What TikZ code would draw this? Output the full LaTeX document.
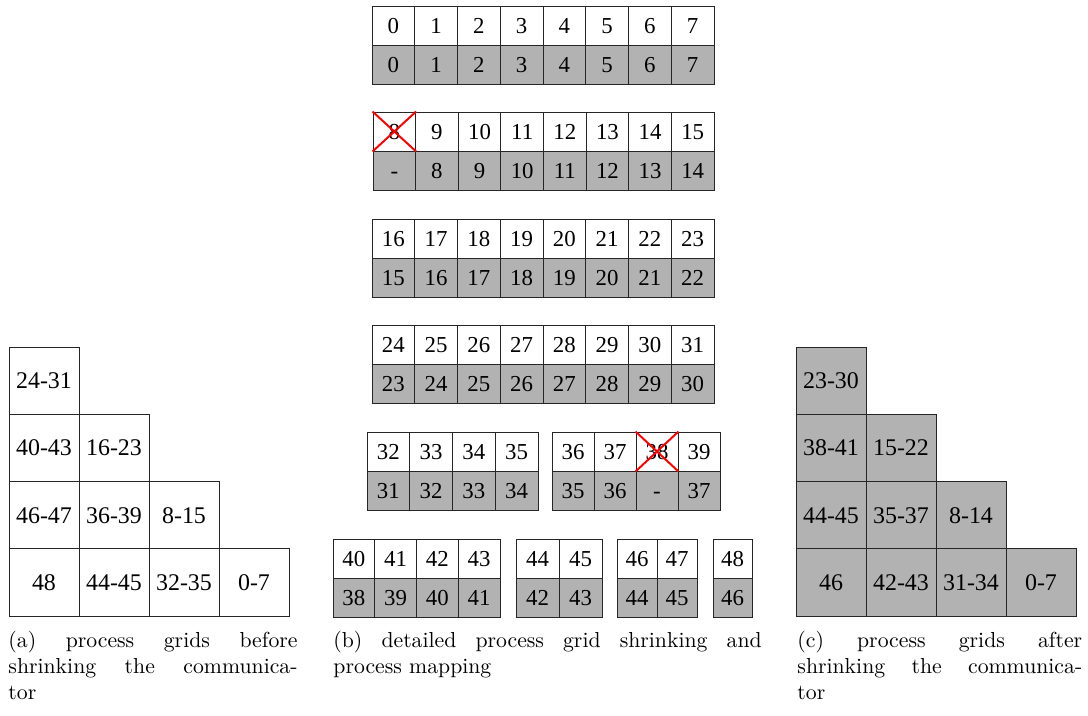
\documentclass[tikz,border=0pt]{standalone}
\usepackage{fontspec}
\newfontfamily\cellfont{Liberation Serif}
\definecolor{shade}{gray}{0.7}
\pretolerance=10000
\tolerance=10000

% one pixel of the layout grid
\newcommand{\pxu}{0.46pt}

\tikzset{
  cell/.style={draw=black!85, line width=0.45pt, inner sep=0pt,
    minimum height=39*\pxu, text height=7.1pt, text depth=0pt,
    font=\cellfont\fontsize{10.5}{12}\selectfont},
  oldcell/.style={cell, fill=white},
  newcell/.style={cell, fill=shade},
  gridcell/.style={draw=black!85, line width=0.45pt, inner sep=0pt,
    minimum width=70*\pxu, minimum height=67.25*\pxu,
    text height=7.4pt, text depth=0pt,
    font=\cellfont\fontsize{11}{13}\selectfont},
  cross/.style={red, line width=0.9pt},
  caption/.style={anchor=north west, inner sep=0pt, align=justify,
    font=\fontsize{10}{12}\selectfont}
}

% #1 name, #2 left, #3 top, #4 cell width, #5 old/new rank pairs
\newcommand{\procblock}[5]{%
  \foreach \oldrank/\newrank [count=\k from 0] in {#5} {
    \node[oldcell, minimum width=#4*\pxu] (#1u\k) at ({#2+(\k+0.5)*#4}, {#3+19.5}) {\oldrank};
    \node[newcell, minimum width=#4*\pxu] (#1d\k) at ({#2+(\k+0.5)*#4}, {#3+58.5}) {\newrank};
  }
}

\begin{document}
\begin{tikzpicture}[x=\pxu, y=-\pxu]
  \useasboundingbox (0,0) rectangle (1088,715);

  % (a) grids before shrinking
  \foreach \c/\r/\lbl in {0/0/24-31, 0/1/40-43, 1/1/16-23, 0/2/46-47, 1/2/36-39,
      2/2/8-15, 0/3/48, 1/3/44-45, 2/3/32-35, 3/3/0-7}
    \node[gridcell] (pa\c\r) at ({9+(\c+0.5)*70}, {347+(\r+0.5)*67.25}) {\lbl};

  % (b) old ranks on top, new ranks below
  \procblock{ra}{372}{6}{42.75}{0/0, 1/1, 2/2, 3/3, 4/4, 5/5, 6/6, 7/7}
  \procblock{rb}{373}{112}{42.63}{8/-, 9/8, 10/9, 11/10, 12/11, 13/12, 14/13, 15/14}
  \procblock{rc}{372}{219}{42.75}{16/15, 17/16, 18/17, 19/18, 20/19, 21/20, 22/21, 23/22}
  \procblock{rd}{372}{325}{42.75}{24/23, 25/24, 26/25, 27/26, 28/27, 29/28, 30/29, 31/30}
  \procblock{re}{367}{432}{42.75}{32/31, 33/32, 34/33, 35/34}
  \procblock{rf}{552}{432}{42}{36/35, 37/36, 38/-, 39/37}
  \procblock{rg}{333}{539}{41.75}{40/38, 41/39, 42/40, 43/41}
  \procblock{rh}{516}{539}{43}{44/42, 45/43}
  \procblock{ri}{617}{539}{40}{46/44, 47/45}
  \procblock{rj}{713}{539}{39}{48/46}

  % failed processes
  \draw[cross] (rbu0.north west) -- (rbu0.south east)
               (rbu0.north east) -- (rbu0.south west);
  \draw[cross] (rfu2.north west) -- (rfu2.south east)
               (rfu2.north east) -- (rfu2.south west);

  % (c) grids after shrinking
  \foreach \c/\r/\lbl in {0/0/23-30, 0/1/38-41, 1/1/15-22, 0/2/44-45, 1/2/35-37,
      2/2/8-14, 0/3/46, 1/3/42-43, 2/3/31-34, 3/3/0-7}
    \node[gridcell, fill=shade] (pc\c\r) at ({796+(\c+0.5)*70}, {347+(\r+0.5)*67.25}) {\lbl};

  \node[caption, text width=133pt] (capa) at (8,631)
    {(a) process grids before\linebreak shrinking the communica-\linebreak tor};
  \node[caption, text width=197pt] (capb) at (333,631)
    {(b) detailed process grid shrinking and\linebreak process mapping};
  \node[caption, text width=131pt] (capc) at (797,631)
    {(c) process grids after\linebreak shrinking the communica-\linebreak tor};
\end{tikzpicture}
\end{document}
